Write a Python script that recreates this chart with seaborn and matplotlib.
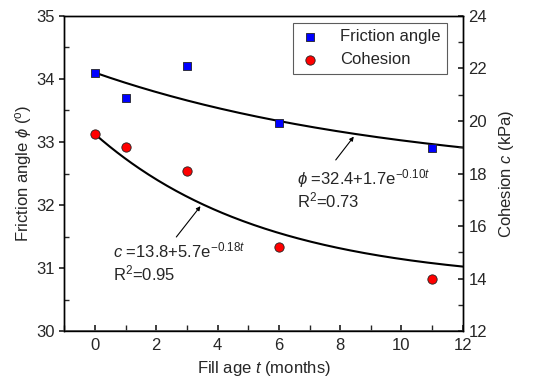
import numpy as np
import pandas as pd
import matplotlib
matplotlib.use("Agg")
import matplotlib.pyplot as plt
import seaborn as sns

# data
fill_age = [0, 1, 3, 6, 11]
friction_angle = [34.1, 33.7, 34.2, 33.3, 32.9]
cohesion = [19.5, 19.0, 18.1, 15.2, 14.0]

# fitted equations shown on the chart: y = a + b*exp(k*t)
phi_fit = (32.4, 1.7, -0.10)
c_fit = (13.8, 5.7, -0.18)

sns.set_theme(style="ticks")
plt.rcParams["font.family"] = ["Liberation Sans", "DejaVu Sans"]
plt.rcParams["mathtext.fontset"] = "custom"
plt.rcParams["mathtext.rm"] = "Liberation Sans"
plt.rcParams["mathtext.it"] = "Liberation Sans:italic"

FS = 12

t_fit = np.linspace(0, 12, 200)
fits = pd.DataFrame({
    "t": t_fit,
    "phi": phi_fit[0] + phi_fit[1] * np.exp(phi_fit[2] * t_fit),
    "c": c_fit[0] + c_fit[1] * np.exp(c_fit[2] * t_fit),
})
pts = pd.DataFrame({"t": fill_age, "phi": friction_angle, "c": cohesion})

fig = plt.figure(figsize=(5.49, 3.78), dpi=100)
ax = fig.add_axes([0.117, 0.124, 0.726, 0.834])
ax2 = ax.twinx()

sns.lineplot(data=fits, x="t", y="phi", ax=ax, color="black", lw=1.5, zorder=2)
sns.scatterplot(data=pts, x="t", y="phi", ax=ax, marker="s", color="#0000ff",
                edgecolor="#222222", linewidth=0.6, s=38, zorder=3,
                label="Friction angle", legend=False)
sns.lineplot(data=fits, x="t", y="c", ax=ax2, color="black", lw=1.5, zorder=2)
sns.scatterplot(data=pts, x="t", y="c", ax=ax2, marker="o", color="#ff0000",
                edgecolor="#222222", linewidth=0.6, s=45, zorder=3,
                label="Cohesion", legend=False)

ax.set_xlim(-1, 12)
ax.set_ylim(30, 35)
ax2.set_ylim(12, 24)
ax.set_xticks(range(0, 13, 2))
ax.set_xticks(range(-1, 13, 1), minor=True)
ax.set_yticks(range(30, 36))
ax.set_yticks(np.arange(30, 35.01, 0.5), minor=True)
ax2.set_yticks(range(12, 25, 2))
ax2.set_yticks(range(12, 25, 1), minor=True)

ax.tick_params(axis="x", which="both", direction="in", length=4, labelsize=FS, pad=5)
ax.tick_params(axis="y", which="major", direction="out", length=3.5, labelsize=FS)
ax.tick_params(axis="y", which="minor", direction="in", length=3.5)
ax2.tick_params(axis="y", which="both", direction="in", length=3.5, labelsize=FS, pad=4)

ax.set_xlabel("Fill age $\\mathit{t}$ (months)", fontsize=FS, labelpad=4)
ax.set_ylabel("Friction angle $\\phi$ ($^{\\rm o}$)", fontsize=FS, labelpad=1)
ax2.set_ylabel("Cohesion $\\mathit{c}$ (kPa)", fontsize=FS, labelpad=7)

for a in (ax, ax2):
    for s in a.spines.values():
        s.set_linewidth(1.0)
        s.set_color("black")
ax.spines["bottom"].set_color("#555555")
ax.spines["bottom"].set_linewidth(1.3)

# annotations with arrows
ax.annotate("", xy=(8.5, 33.12), xytext=(7.8, 32.68),
            arrowprops=dict(arrowstyle="-|>", color="black", lw=0.8,
                            mutation_scale=6))
ax.text(6.6, 32.32, "$\\phi$ =32.4+1.7e$^{-0.10\\mathit{t}}$", fontsize=FS)
ax.text(6.6, 31.97, "R$^2$=0.73", fontsize=FS)

ax2.annotate("", xy=(3.5, 16.84), xytext=(2.6, 15.5),
             arrowprops=dict(arrowstyle="-|>", color="black", lw=0.8,
                             mutation_scale=6))
ax2.text(0.6, 14.82, "$\\mathit{c}$ =13.8+5.7e$^{-0.18\\mathit{t}}$", fontsize=FS)
ax2.text(0.6, 13.94, "R$^2$=0.95", fontsize=FS)

h1, l1 = ax.get_legend_handles_labels()
h2, l2 = ax2.get_legend_handles_labels()
leg = ax2.legend(h1 + h2, l1 + l2, loc="upper right", bbox_to_anchor=(0.96, 0.978),
                 fontsize=FS, frameon=True, fancybox=False, edgecolor="#333333",
                 handlelength=1.2, handletextpad=1.2, borderpad=0.4,
                 labelspacing=0.45, borderaxespad=0)
leg.get_frame().set_linewidth(0.8)

fig.savefig("out.png", dpi=100)
